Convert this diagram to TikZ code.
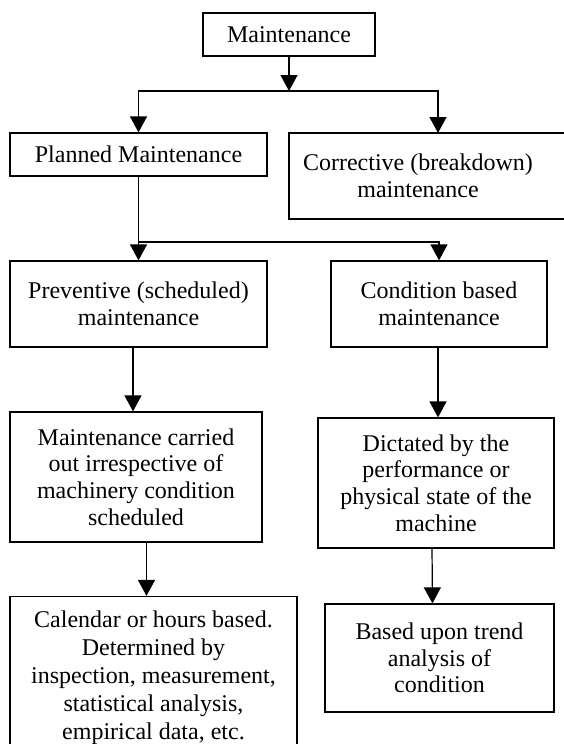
\documentclass[tikz,border=0pt]{standalone}
\usepackage{fontspec}
\setmainfont{Liberation Serif}
\usetikzlibrary{arrows.meta}
\tikzset{
    box/.style={draw, align=center, inner sep=0pt},
    txt/.style={align=center, inner sep=0pt},
    arr/.style={-{Triangle[width=17pt,length=16pt]}},
}
\begin{document}
\begin{tikzpicture}[x=1pt,y=-1pt,line width=1.2pt,font=\fontsize{24}{26.7}\selectfont]
    \useasboundingbox (0,0) rectangle (564,744);

    % Draw the boxes
    \node[box,minimum width=172,minimum height=43] (maint) at (289,34.5) {Maintenance};
    \node[box,minimum width=257,minimum height=43] (planned) at (138.5,154.5) {Planned Maintenance};
    \node[box,minimum width=311,minimum height=86] (corr) at (444.5,176) {};
    \node[txt] (corrtext) at (418,176) {Corrective (breakdown)\\maintenance};
    \node[box,minimum width=257,minimum height=86] (prev) at (138.5,304) {Preventive (scheduled)\\maintenance};
    \node[box,minimum width=216,minimum height=86] (cond) at (439,304) {Condition based\\maintenance};
    \node[box,minimum width=252,minimum height=130] (carried) at (136,477) {Maintenance carried\\out irrespective of\\machinery condition\\scheduled};
    \node[box,minimum width=236,minimum height=130] (dict) at (436,483) {Dictated by the\\performance or\\physical state of the\\machine};
    \node[box,minimum width=287,minimum height=162,font=\fontsize{24}{28}\selectfont] (cal) at (153.5,677.5) {Calendar or hours based.\\Determined by\\inspection, measurement,\\statistical analysis,\\empirical data, etc.};
    \node[box,minimum width=229,minimum height=108] (based) at (439.5,658) {Based upon trend\\analysis of\\condition};

    % Draw the arrows
    \coordinate (fork1) at (289,91);
    \coordinate (corrin) at (438,133);
    \draw[arr] (maint) -- (fork1);
    \draw[arr] (fork1) -| (planned);
    \draw[arr] (fork1) -| (corrin);

    \coordinate (fork2) at (138.5,242);
    \draw (planned) -- (fork2);
    \draw[arr] (fork2) -- (prev);
    \draw[arr] (fork2) -| (cond);

    \draw[arr] ([xshift=-5.5pt]prev.south) -- ([xshift=-5.5pt]prev.south |- carried.north);
    \draw[arr] ([xshift=-1pt]cond.south) -- ([xshift=-1pt]cond.south |- dict.north);
    \draw[arr] ([xshift=10.5pt]carried.south) -- ([xshift=10.5pt]carried.south |- cal.north);
    \draw[arr] ([xshift=-4pt]dict.south) -- ([xshift=-7pt]based.north);
\end{tikzpicture}
\end{document}
